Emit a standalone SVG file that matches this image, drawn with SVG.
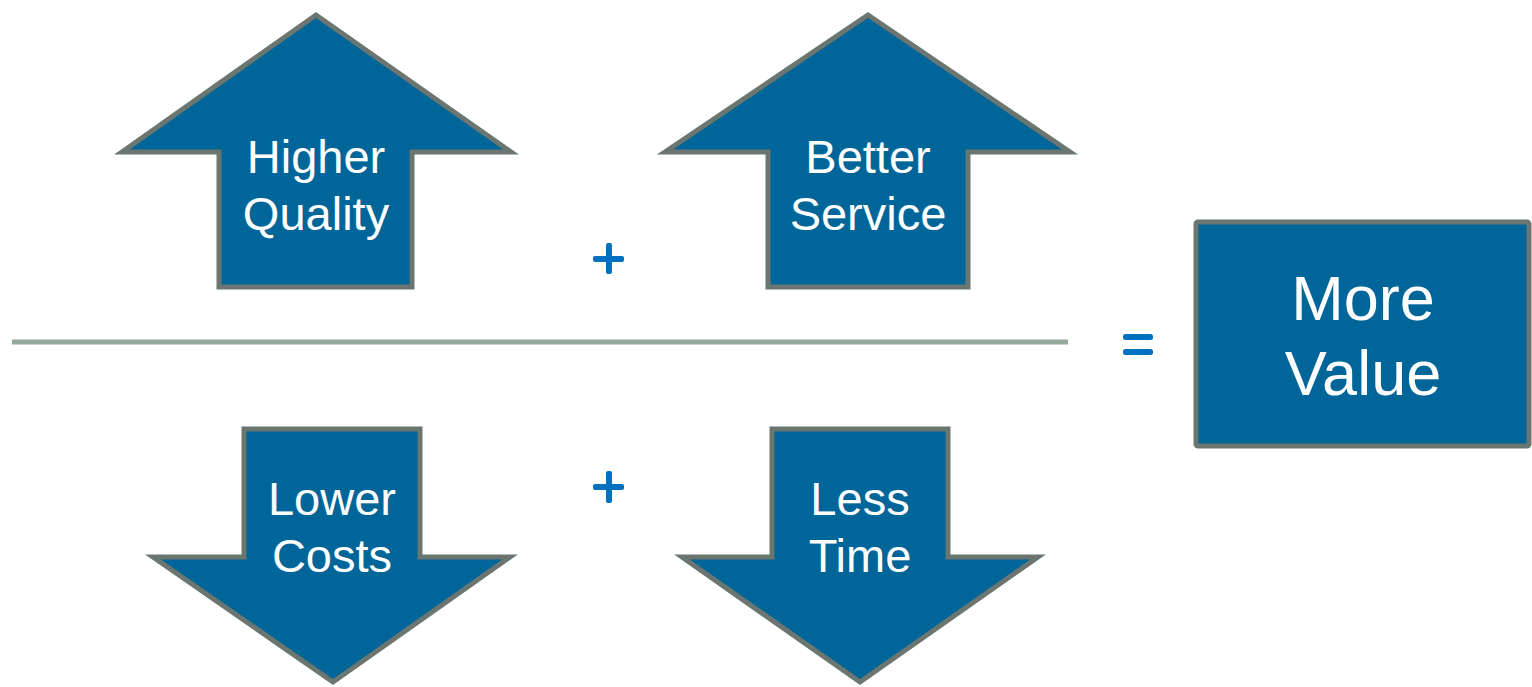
<svg xmlns="http://www.w3.org/2000/svg" width="1532" height="687" viewBox="0 0 1532 687">
<style>
.shape{fill:#006699;stroke:#6b7670;stroke-width:5;stroke-linejoin:miter}
.lbl{font-family:"Liberation Sans",Arial,sans-serif;font-size:47px;fill:#ffffff;text-anchor:middle}
.big{font-size:63px}
.op{fill:#0070c0}
</style>
<rect width="1532" height="687" fill="#ffffff"/>
<g id="connectors">
<line x1="12" y1="342" x2="1068" y2="342" stroke="#96a89a" stroke-width="5"/>
<g id="plus-top" class="op">
<rect x="593" y="256" width="31" height="6" rx="2"/>
<rect x="606" y="243" width="6" height="31" rx="2"/>
</g>
<g id="plus-bottom" class="op">
<rect x="593" y="484" width="31" height="6" rx="2"/>
<rect x="606" y="471" width="6" height="32" rx="2"/>
</g>
<g id="equals" class="op">
<rect x="1123" y="334" width="30" height="6" rx="2.5"/>
<rect x="1123" y="349" width="30" height="6" rx="2.5"/>
</g>
</g>
<g id="higher-quality">
<polygon class="shape" points="316,15 511,152 412,152 412,287 219,287 219,152 122,152"/>
<text class="lbl" x="316" y="173">Higher</text>
<text class="lbl" x="316" y="230">Quality</text>
</g>
<g id="better-service">
<polygon class="shape" points="868,15 1070,152 968,152 968,287 768,287 768,152 665,152"/>
<text class="lbl" x="868" y="173">Better</text>
<text class="lbl" x="868" y="230">Service</text>
</g>
<g id="lower-costs">
<polygon class="shape" points="244,429 420,429 420,557 510,557 333,682 153,557 244,557"/>
<text class="lbl" x="332" y="515">Lower</text>
<text class="lbl" x="332" y="572">Costs</text>
</g>
<g id="less-time">
<polygon class="shape" points="772,429 948,429 948,557 1038,557 860,682 682,557 772,557"/>
<text class="lbl" x="860" y="515">Less</text>
<text class="lbl" x="860" y="572">Time</text>
</g>
<g id="more-value">
<rect class="shape" x="1196" y="222" width="333" height="224" rx="2"/>
<text class="lbl big" x="1363" y="320">More</text>
<text class="lbl big" x="1363" y="395">Value</text>
</g>
</svg>
